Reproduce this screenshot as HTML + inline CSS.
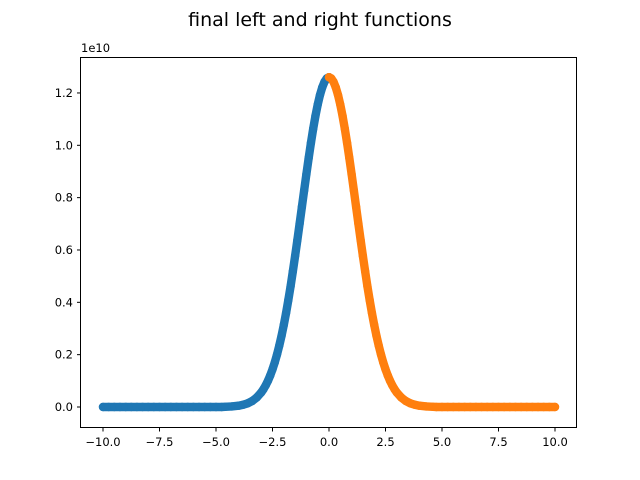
<!DOCTYPE html>
<html><head><meta charset="utf-8"><style>
body{margin:0;background:#fff}
svg{display:block;font-family:"DejaVu Sans","Liberation Sans",sans-serif}
</style></head><body>
<svg id="c" width="640" height="480">
<text x="320" y="26" font-size="19" text-anchor="middle">final left and right functions</text>
</svg>
<script>
const leftX=[-10,-9.75,-9.5,-9.25,-9,-8.75,-8.5,-8.25,-8,-7.75,-7.5,-7.25,-7,-6.75,-6.5,-6.25,-6,-5.75,-5.5,-5.25,-5,-4.75,-4.6,-4.3,-4,-3.8,-3.6,-3.4,-3.2,-3,-2.9,-2.8,-2.7,-2.6,-2.5,-2.4,-2.3,-2.2,-2.1,-2,-1.9,-1.8,-1.7,-1.6,-1.5,-1.4,-1.3,-1.2,-1.1,-1,-0.9,-0.8,-0.7,-0.6,-0.5,-0.4,-0.3,-0.2,-0.1,0];
const leftY=[0,0,0,0,0,0,0,0,0,0,0,0,0,0,0,0,0,0,0,0,0,0,0.0008,0.002,0.0049,0.0084,0.014,0.0228,0.036,0.0554,0.068,0.0829,0.1003,0.1206,0.1439,0.1705,0.2007,0.2345,0.272,0.3136,0.359,0.4083,0.4609,0.518,0.5769,0.638,0.7007,0.7642,0.8275,0.89,0.951,1.0089,1.063,1.112,1.1553,1.1919,1.2212,1.2426,1.2556,1.26];
const rightX=[0,0.1,0.2,0.3,0.4,0.5,0.6,0.7,0.8,0.9,1,1.1,1.2,1.3,1.4,1.5,1.6,1.7,1.8,1.9,2,2.1,2.2,2.3,2.4,2.5,2.6,2.7,2.8,2.9,3,3.2,3.4,3.6,3.8,4,4.3,4.6,4.75,5,5.25,5.5,5.75,6,6.25,6.5,6.75,7,7.25,7.5,7.75,8,8.25,8.5,8.75,9,9.25,9.5,9.75,10];
const rightY=[1.26,1.2556,1.2426,1.2212,1.1919,1.1553,1.112,1.063,1.0089,0.951,0.89,0.8275,0.7642,0.7007,0.638,0.5769,0.518,0.4609,0.4083,0.359,0.3136,0.272,0.2345,0.2007,0.1705,0.1439,0.1206,0.1003,0.0829,0.068,0.0554,0.036,0.0228,0.014,0.0084,0.0049,0.002,0.0008,0,0,0,0,0,0,0,0,0,0,0,0,0,0,0,0,0,0,0,0,0,0];
const xTicks=[-10,-7.5,-5,-2.5,0,2.5,5,7.5,10];
const xTickLabels=["−10.0","−7.5","−5.0","−2.5","0.0","2.5","5.0","7.5","10.0"];
const yTicks=[0,0.2,0.4,0.6,0.8,1.0,1.2];
const yTickLabels=["0.0","0.2","0.4","0.6","0.8","1.0","1.2"];
const NS="http://www.w3.org/2000/svg";
const svg=document.getElementById('c');
const X=v=>329+v*22.6, Y=v=>407-v*261.7;
function mk(t,a,p){const e=document.createElementNS(NS,t);for(const k in a)e.setAttribute(k,a[k]);(p||svg).appendChild(e);return e;}
function series(xs,ys,color,name){
const g=mk('g',{});


const d=xs.map((x,i)=>(i?'L':'M')+X(x).toFixed(2)+','+Y(ys[i]).toFixed(2)).join('');
const p=mk('path',{d:d,fill:'none',stroke:color,'stroke-width':8.4,'stroke-linejoin':'round','stroke-linecap':'round'},g);


xs.forEach((x,i)=>{const c=mk('circle',{cx:X(x),cy:Y(ys[i]),r:4.2,fill:color},g);

});
}
series(leftX,leftY,'#1f77b4','series-left');
series(rightX,rightY,'#ff7f0e','series-right');
const frame=mk('rect',{x:80.5,y:57.5,width:496,height:370,fill:'none',stroke:'#000','stroke-width':1});


xTicks.forEach((v,i)=>{const x=X(v);mk('line',{x1:x,x2:x,y1:428,y2:431.5,stroke:'#000'});
const t=mk('text',{x:x,y:446,'font-size':11.5,'text-anchor':'middle'});t.textContent=xTickLabels[i];

});
yTicks.forEach((v,i)=>{const y=Y(v);mk('line',{x1:77,x2:80.5,y1:y,y2:y,stroke:'#000'});
const t=mk('text',{x:73,y:y+4,'font-size':11.5,'text-anchor':'end'});t.textContent=yTickLabels[i];

});
const off=mk('text',{x:81,y:52,'font-size':11.5});off.textContent='1e10';


</script>
</body></html>
